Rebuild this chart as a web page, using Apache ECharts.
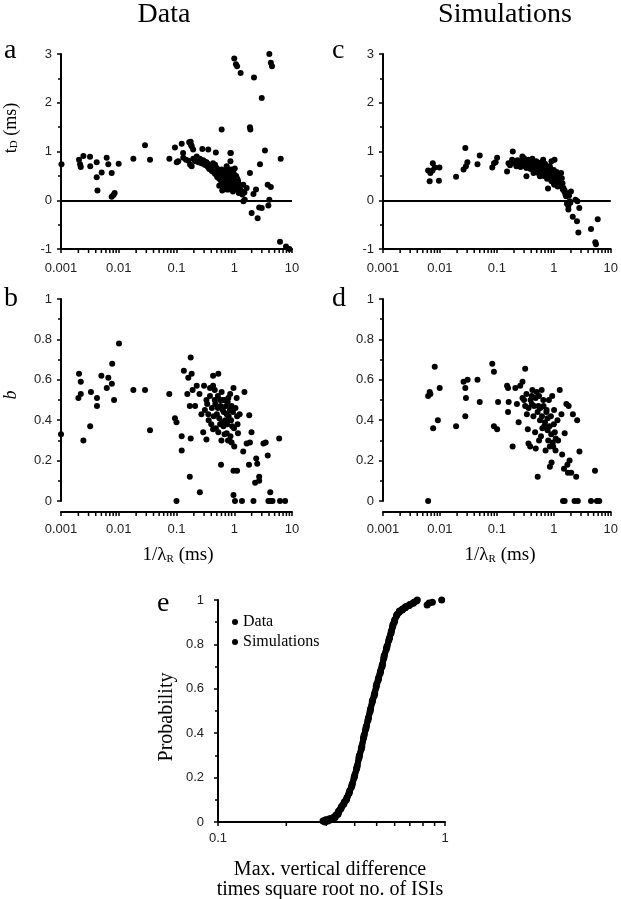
<!DOCTYPE html>
<html>
<head>
<meta charset="utf-8">
<script src="https://cdn.jsdelivr.net/npm/echarts@6/dist/echarts.min.js"></script>
<style>
html,body{margin:0;padding:0;background:#fff;}
#chart{position:absolute;left:0;top:0;width:621px;height:899px;}
#labels{position:absolute;left:0;top:0;width:621px;height:899px;pointer-events:none;}
</style>
</head>
<body>
<div id="chart"></div>
<div id="labels"></div>
<script>
// ---------- DATA ----------
var xRangeLog = [0.001, 10];
var xRangeE = [0.1, 1];
var yRangeTD = [-1, 3];
var yRangeB = [0, 1];
var bAxisLevel = -0.0545;   // level of the detached x axis under panels b and d
var xMinorTicksLog = [0.002,0.003,0.004,0.005,0.006,0.007,0.008,0.009,
                      0.02,0.03,0.04,0.05,0.06,0.07,0.08,0.09,
                      0.2,0.3,0.4,0.5,0.6,0.7,0.8,0.9,
                      2,3,4,5,6,7,8,9];
var xMinorTicksE = [0.2,0.3,0.4,0.5,0.6,0.7,0.8,0.9];

// panel a: data, 1/lambdaR (ms) vs tD (ms)
var panelA = [
 [0.00102,0.74],[0.00205,0.83],[0.00214,0.74],[0.0022,0.68],[0.00244,0.91],[0.00318,0.89],[0.00321,0.70],
 [0.00415,0.78],[0.00415,0.47],[0.00506,0.57],[0.00428,0.20],[0.00618,0.87],[0.0066,0.74],[0.00754,0.56],
 [0.00997,0.75],[0.00754,0.07],[0.0081,0.11],[0.0085,0.15],[0.0179,0.85],[0.0285,1.13],[0.0348,0.83],
 [0.0752,0.85],[0.094,1.08],[0.101,0.78],[0.107,0.80],[0.123,1.16],[0.13,0.97],[0.131,0.87],[0.146,0.83],
 [0.161,0.81],[0.166,1.19],[0.176,1.20],[0.18,1.13],[0.183,1.11],[0.172,0.73],[0.194,1.04],[0.183,0.70],
 [0.195,0.85],[0.224,0.90],[0.224,0.87],[0.254,0.85],[0.255,0.83],[0.28,1.05],[0.355,1.04],[0.33,0.78],
 [0.29,0.80],[0.333,0.77],[0.38,0.70],[0.43,0.76],[0.434,0.63],[0.465,0.73],[0.48,0.98],[0.497,0.66],
 [0.53,0.56],[0.566,0.49],[0.605,0.63],[0.646,0.42],[0.69,0.56],[0.74,0.70],[0.79,0.49],[0.84,0.39],
 [0.86,0.80],[0.88,0.63],[0.87,0.97],[0.86,0.97],[0.74,0.22],[0.88,0.29],[1.03,0.46],[1.1,0.22],[1.17,0.36],
 [1.34,0.18],[1.43,0.32],[0.605,1.45],
 [0.21,0.80],[0.23,0.84],[0.24,0.78],[0.26,0.81],[0.27,0.76],[0.29,0.82],[0.30,0.74],[0.31,0.79],[0.32,0.72],
 [0.34,0.75],[0.35,0.68],[0.36,0.73],[0.37,0.64],[0.39,0.71],[0.40,0.66],[0.41,0.60],[0.42,0.69],[0.44,0.58],
 [0.45,0.64],[0.46,0.55],[0.47,0.61],[0.49,0.52],[0.50,0.58],[0.51,0.47],[0.52,0.62],[0.54,0.54],[0.55,0.44],
 [0.56,0.59],[0.58,0.51],[0.59,0.40],[0.60,0.57],[0.62,0.47],[0.63,0.53],[0.64,0.36],[0.65,0.60],[0.66,0.45],
 [0.67,0.52],[0.68,0.39],[0.70,0.55],[0.71,0.48],[0.72,0.33],[0.73,0.62],[0.75,0.44],[0.76,0.52],[0.77,0.38],
 [0.78,0.57],[0.80,0.46],[0.81,0.30],[0.82,0.53],[0.83,0.41],[0.85,0.49],[0.86,0.35],[0.87,0.58],[0.89,0.44],
 [0.90,0.26],[0.92,0.52],[0.93,0.38],[0.95,0.47],[0.97,0.31],[0.98,0.55],[1.0,0.42],[1.02,0.65],[1.05,0.36],
 [1.08,0.50],[1.1,0.28],[1.13,0.44],[1.16,0.40],[1.2,0.33],[1.25,0.25],[1.3,0.20],[1.38,0.12],[1.2,0.15],
 [0.62,0.20],[0.8,0.22],[0.95,0.18],[0.68,0.27],[0.55,0.30],
 [1.0,2.91],[1.07,2.79],[1.12,2.75],[1.29,2.61],[2.2,2.52],[4.05,3.0],[4.3,2.82],[4.5,2.75],[2.99,2.10],
 [1.87,1.50],[1.9,1.45],[3.4,1.02],[6.37,0.85],[2.79,0.74],[3.79,0.32],[4.3,0.27],[1.87,0.56],[1.64,0.25],
 [2.38,0.22],[2.15,0.13],[1.5,0.16],[1.44,-0.02],[1.52,0.01],[2.0,-0.26],[2.54,-0.37],[2.7,-0.15],[2.99,-0.16],
 [3.9,-0.11],[4.05,0.01],[6.2,-0.85],[7.87,-0.95],[9.0,-1.0],[9.5,-1.03]
];

// panel b: data, 1/lambdaR (ms) vs b
var panelB = [
 [0.001,0.33],[0.00205,0.63],[0.0022,0.59],[0.0022,0.53],[0.002,0.51],[0.00244,0.30],[0.0033,0.54],[0.0032,0.37],
 [0.0042,0.51],[0.0042,0.47],[0.005,0.62],[0.0066,0.61],[0.0062,0.56],[0.0076,0.58],[0.0077,0.68],[0.0083,0.50],
 [0.0101,0.78],[0.0179,0.55],[0.0285,0.55],[0.0348,0.35],[0.075,0.53],[0.094,0.41],[0.10,0.39],[0.10,0.0],
 [0.123,0.25],[0.123,0.32],[0.134,0.645],[0.154,0.53],[0.16,0.61],[0.176,0.71],[0.176,0.31],[0.17,0.12],
 [0.183,0.63],[0.19,0.55],[0.17,0.47],[0.21,0.47],[0.224,0.57],[0.254,0.043],[0.25,0.53],[0.27,0.43],[0.29,0.34],
 [0.3,0.57],[0.33,0.50],[0.33,0.305],[0.355,0.43],[0.38,0.56],[0.4,0.38],[0.43,0.62],[0.43,0.57],[0.46,0.50],
 [0.5,0.43],[0.53,0.63],[0.43,0.355],[0.53,0.34],[0.57,0.50],[0.57,0.38],[0.59,0.18],[0.605,0.54],[0.63,0.45],
 [0.65,0.37],[0.69,0.50],[0.74,0.43],[0.74,0.335],[0.79,0.51],[0.81,0.40],[0.83,0.30],[0.85,0.53],[0.9,0.47],
 [0.92,0.37],[0.97,0.56],[0.97,0.15],[1.0,0.27],[0.97,0.03],[1.03,0.0],[1.1,0.51],[1.12,0.42],[1.16,0.335],
 [1.12,0.15],[1.24,0.43],[1.36,0.0],[1.43,0.245],[1.5,0.54],[1.64,0.285],[1.8,0.18],[1.82,0.425],[1.99,0.34],
 [1.87,0.29],[2.15,0.0],[2.3,0.09],[2.4,0.21],[2.5,0.185],[2.7,0.10],[2.7,0.12],[3.2,0.285],[3.5,0.29],[3.8,0.225],
 [3.9,0.0],[4.2,0.043],[4.3,0.0],[4.6,0.0],[6.0,0.31],[6.2,0.0],[7.6,0.0],
 [0.31,0.45],[0.34,0.48],[0.36,0.40],[0.38,0.52],[0.41,0.46],[0.44,0.42],[0.47,0.48],[0.48,0.36],[0.52,0.46],
 [0.55,0.41],[0.58,0.47],[0.61,0.39],[0.63,0.50],[0.66,0.44],[0.70,0.40],[0.72,0.47],[0.75,0.38],[0.77,0.49],
 [0.80,0.42],[0.84,0.45],[0.86,0.32],[0.88,0.40],[0.95,0.44],[0.99,0.36],[1.05,0.46],[1.14,0.38],[0.78,0.30],
 [0.9,0.29],[0.68,0.33],[0.6,0.30],[0.52,0.52],[0.46,0.55]
];

// panel c: simulations, 1/lambdaR (ms) vs tD (ms)
var panelC = [
 [0.0062,0.61],[0.0066,0.39],[0.0068,0.56],[0.0075,0.76],[0.0081,0.67],[0.0074,0.61],[0.0096,0.40],[0.0098,0.67],
 [0.0192,0.48],[0.026,0.63],[0.0279,1.07],[0.0286,0.70],[0.0303,0.78],[0.0456,0.74],[0.05,0.92],[0.083,0.67],
 [0.089,0.76],[0.101,0.87],[0.095,0.78],[0.151,0.59],[0.16,0.76],[0.185,0.83],[0.19,1.0],[0.21,0.76],[0.24,0.73],
 [0.28,0.90],[0.31,0.70],[0.33,0.49],[0.36,0.83],[0.38,0.70],[0.41,0.80],[0.44,0.56],[0.47,0.66],[0.50,0.76],
 [0.53,0.56],[0.57,0.49],[0.61,0.70],[0.65,0.83],[0.70,0.59],[0.74,0.49],[0.79,0.24],[0.85,0.70],[0.91,0.80],
 [0.93,0.39],[0.97,0.56],[1.0,0.35],[1.03,0.83],[1.1,0.49],[1.17,0.28],[1.26,0.39],[1.34,0.56],[1.44,0.22],
 [1.53,0.18],[1.64,0.08],[1.7,-0.07],[1.8,-0.19],[1.9,-0.02],[2.0,0.18],[2.4,0.01],[2.6,-0.02],[2.15,-0.34],
 [2.55,-0.43],[2.8,-0.16],[2.7,-0.66],[4.5,-0.59],[5.35,-0.86],[5.5,-0.90],[5.9,-0.39],
 [0.17,0.72],[0.2,0.78],[0.22,0.70],[0.23,0.82],[0.25,0.75],[0.26,0.68],[0.27,0.79],[0.29,0.73],[0.30,0.86],
 [0.32,0.76],[0.33,0.66],[0.34,0.81],[0.35,0.72],[0.37,0.77],[0.39,0.64],[0.40,0.74],[0.42,0.85],[0.43,0.69],
 [0.45,0.76],[0.46,0.60],[0.48,0.72],[0.49,0.80],[0.51,0.65],[0.52,0.71],[0.54,0.58],[0.55,0.77],[0.56,0.68],
 [0.58,0.62],[0.59,0.74],[0.60,0.53],[0.62,0.66],[0.63,0.79],[0.64,0.58],[0.66,0.71],[0.67,0.50],[0.68,0.64],
 [0.70,0.75],[0.71,0.55],[0.72,0.67],[0.75,0.61],[0.76,0.44],[0.78,0.69],[0.8,0.56],[0.82,0.62],[0.84,0.47],
 [0.86,0.66],[0.88,0.53],[0.9,0.40],[0.92,0.60],[0.95,0.50],[0.98,0.45],[1.0,0.62],[1.02,0.32],[1.05,0.54],
 [1.07,0.42],[1.1,0.36],[1.12,0.58],[1.15,0.46],[1.2,0.33],[1.22,0.50],[1.28,0.42],[1.32,0.30],[1.38,0.45],
 [1.42,0.35],[1.48,0.25],[1.55,0.20],[1.6,0.12],[1.75,0.14],[1.85,0.10],[1.8,-0.12],[1.95,-0.05]
];

// panel d: simulations, 1/lambdaR (ms) vs b
var panelD = [
 [0.0062,0.0],[0.0062,0.52],[0.0066,0.54],[0.0068,0.53],[0.0081,0.665],[0.0076,0.36],[0.0092,0.40],[0.0099,0.56],
 [0.0192,0.37],[0.026,0.59],[0.0279,0.56],[0.0286,0.51],[0.0279,0.42],[0.0306,0.60],[0.0456,0.60],[0.05,0.49],
 [0.083,0.68],[0.0887,0.64],[0.0887,0.37],[0.101,0.355],[0.105,0.49],[0.151,0.57],[0.157,0.56],[0.157,0.44],
 [0.161,0.49],[0.189,0.27],[0.211,0.56],[0.225,0.48],[0.241,0.39],[0.257,0.57],[0.282,0.59],[0.314,0.655],
 [0.282,0.51],[0.314,0.47],[0.336,0.43],[0.349,0.355],[0.359,0.285],[0.384,0.27],[0.41,0.52],[0.41,0.48],
 [0.438,0.42],[0.469,0.34],[0.481,0.26],[0.5,0.54],[0.521,0.12],[0.535,0.47],[0.571,0.40],[0.595,0.32],
 [0.611,0.55],[0.653,0.50],[0.679,0.37],[0.716,0.25],[0.746,0.45],[0.776,0.35],[0.798,0.30],[0.819,0.50],
 [0.853,0.17],[0.888,0.42],[0.912,0.19],[0.935,0.52],[0.973,0.27],[1.01,0.45],[1.04,0.34],[1.07,0.25],
 [1.16,0.40],[1.19,0.30],[1.27,0.55],[1.36,0.43],[1.40,0.23],[1.45,0.0],[1.55,0.0],[1.51,0.16],[1.55,0.335],
 [1.66,0.48],[1.73,0.18],[1.77,0.14],[1.82,0.47],[1.89,0.20],[2.02,0.14],[2.16,0.43],[2.31,0.0],[2.47,0.12],
 [2.64,0.0],[2.57,0.40],[2.82,0.245],[4.5,0.0],[5.28,0.15],[5.71,0.0],[6.28,0.0],
 [0.30,0.50],[0.33,0.53],[0.36,0.46],[0.39,0.50],[0.42,0.55],[0.45,0.47],[0.48,0.51],[0.52,0.44],[0.55,0.52],
 [0.58,0.46],[0.62,0.42],[0.66,0.47],[0.70,0.39],[0.74,0.44],[0.78,0.41],[0.84,0.37],[0.9,0.33],[0.96,0.29],
 [1.0,0.38],[1.08,0.31],[0.63,0.36],[0.55,0.30],[0.85,0.27]
];

// panel e: cumulative distributions (null = gap between separate dots)
var eData = [
 [0.290,0.005],[0.298,0.01],[0.31,0.015],[0.322,0.02],[0.33,0.03],[0.34,0.05],[0.35,0.07],[0.36,0.09],[0.37,0.11],
 [0.38,0.14],[0.39,0.17],[0.40,0.21],[0.41,0.25],[0.42,0.30],[0.43,0.34],[0.44,0.39],[0.45,0.43],[0.46,0.47],
 [0.47,0.51],[0.48,0.55],[0.49,0.58],[0.50,0.62],[0.51,0.65],[0.52,0.68],[0.53,0.71],[0.54,0.75],[0.555,0.79],
 [0.57,0.83],[0.58,0.86],[0.59,0.89],[0.60,0.91],[0.615,0.935],[0.63,0.95],[0.65,0.96],[0.67,0.97],[0.70,0.98],
 [0.73,0.99],[0.755,1.0]
];
var eSim = [
 [0.296,0.0],[0.305,0.005],[0.315,0.01],[0.328,0.02],[0.338,0.035],[0.348,0.06],[0.358,0.08],[0.368,0.10],
 [0.378,0.13],[0.388,0.16],[0.398,0.20],[0.408,0.24],[0.418,0.29],[0.428,0.33],[0.438,0.38],[0.448,0.42],
 [0.458,0.46],[0.468,0.50],[0.478,0.54],[0.488,0.57],[0.498,0.61],[0.508,0.64],[0.518,0.67],[0.528,0.70],
 [0.538,0.74],[0.552,0.78],[0.566,0.82],[0.578,0.85],[0.588,0.88],[0.598,0.90],[0.612,0.93],[0.628,0.945],
 [0.648,0.955],[0.668,0.965],[0.695,0.975],[0.725,0.985],[0.75,0.995],null,[0.834,0.977],null,[0.851,0.986],
 null,[0.88,0.99],null,[0.967,1.0]
];

// ---------- STYLE HELPERS ----------
var SANS = 'Liberation Sans, Arial, sans-serif';
var SERIF = 'Liberation Serif, Times New Roman, serif';
function logLabel(v){ return String(+Number(v).toPrecision(1)); }
function xLog(grid, range, offset, margin){
  return {
    type:'log', logBase:10, gridIndex:grid, min:range[0], max:range[1], offset:offset||0,
    axisLine:{show:true, onZero:false, lineStyle:{color:'#000', width:2}},
    axisTick:{show:true, length:4, lineStyle:{color:'#000', width:1.5}},
    minorTick:{show:false},
    axisLabel:{color:'#222', fontFamily:SANS, fontSize:13, margin:margin, formatter:logLabel},
    splitLine:{show:false}, minorSplitLine:{show:false}
  };
}
function yVal(grid, range, interval, margin){
  return {
    type:'value', gridIndex:grid, min:range[0], max:range[1], interval:interval,
    axisLine:{show:true, onZero:false, lineStyle:{color:'#000', width:2}},
    axisTick:{show:true, length:4, lineStyle:{color:'#000', width:1.5}},
    minorTick:{show:true, splitNumber:2, length:3, lineStyle:{color:'#000', width:1.5}},
    axisLabel:{color:'#222', fontFamily:SANS, fontSize:13, margin:margin},
    splitLine:{show:false}
  };
}
function scatter(name, xi, data, zero){
  var s = {name:name, type:'scatter', xAxisIndex:xi, yAxisIndex:xi, data:data,
    symbol:'circle', symbolSize:6, itemStyle:{color:'#000', opacity:1}, silent:true};
  if (zero) s.markLine = {silent:true, symbol:['none','none'], label:{show:false},
      lineStyle:{color:'#000', width:2, type:'solid', opacity:1}, data:[{yAxis:0}]};
  return s;
}
function minorTicks(xi, values, level){
  return {type:'scatter', name:'minor'+xi, xAxisIndex:xi, yAxisIndex:xi, clip:false, silent:true, z:3,
    data:values.map(function(v){ return [v, level]; }),
    symbol:'rect', symbolSize:[1.5, 4], symbolOffset:[0, 2], itemStyle:{color:'#000', opacity:1}};
}

var option = {
  animation:false,
  backgroundColor:'#fff',
  grid:[
    {left:61, top:54, width:231, height:195},
    {left:61, top:299, width:231, height:202},
    {left:383, top:54, width:230, height:195},
    {left:383, top:299, width:230, height:202},
    {left:218, top:600, width:227, height:222}
  ],
  xAxis:[xLog(0, xRangeLog, 0, 13), xLog(1, xRangeLog, 11, 11), xLog(2, xRangeLog, 0, 13), xLog(3, xRangeLog, 11, 11), xLog(4, xRangeE, 0, 10)],
  yAxis:[yVal(0, yRangeTD, 1, 9), yVal(1, yRangeB, 0.2, 9), yVal(2, yRangeTD, 1, 9), yVal(3, yRangeB, 0.2, 9), yVal(4, yRangeB, 0.2, 14)],
  legend:{data:['Data','Simulations'], orient:'vertical', left:227, top:609, itemGap:4, icon:'circle', itemWidth:6, itemHeight:6,
    textStyle:{fontFamily:SERIF, fontSize:16, color:'#000'}},
  series:[
    scatter('a', 0, panelA, true), scatter('b', 1, panelB, false), scatter('c', 2, panelC, true), scatter('d', 3, panelD, false),
    {name:'Data', type:'line', xAxisIndex:4, yAxisIndex:4, data:eData, symbol:'circle', symbolSize:7,
     itemStyle:{color:'#000', opacity:1}, lineStyle:{color:'#000', width:6}},
    {name:'Simulations', type:'line', xAxisIndex:4, yAxisIndex:4, data:eSim, symbol:'circle', symbolSize:7,
     itemStyle:{color:'#000', opacity:1}, lineStyle:{color:'#000', width:6}},
    minorTicks(0, xMinorTicksLog, yRangeTD[0]),
    minorTicks(1, xMinorTicksLog, bAxisLevel),
    minorTicks(2, xMinorTicksLog, yRangeTD[0]),
    minorTicks(3, xMinorTicksLog, bAxisLevel),
    minorTicks(4, xMinorTicksE, yRangeB[0])
  ]
};

// titles and axis names, drawn by a second ECharts instance laid over the plots
var textGraphics = [
  {type:'text', x:164, y:15, style:{text:'Data', font:'28px '+SERIF, fill:'#000', align:'center', verticalAlign:'middle'}},
  {type:'text', x:505, y:15, style:{text:'Simulations', font:'28px '+SERIF, fill:'#000', align:'center', verticalAlign:'middle'}},
  {type:'text', x:4, y:37, style:{text:'a', font:'28px '+SERIF, fill:'#000'}},
  {type:'text', x:4, y:285, style:{text:'b', font:'28px '+SERIF, fill:'#000'}},
  {type:'text', x:332, y:37, style:{text:'c', font:'28px '+SERIF, fill:'#000'}},
  {type:'text', x:332, y:285, style:{text:'d', font:'28px '+SERIF, fill:'#000'}},
  {type:'text', x:157, y:590, style:{text:'e', font:'28px '+SERIF, fill:'#000'}},
  {type:'text', x:11, y:128, rotation:Math.PI/2,
   style:{text:'{t|t}{s|D}{t| (ms)}', align:'center', verticalAlign:'middle', fill:'#000',
     rich:{t:{fontFamily:SERIF, fontSize:18, fill:'#000'}, s:{fontFamily:SERIF, fontSize:11, fill:'#000', verticalAlign:'bottom'}}}},
  {type:'text', x:11, y:395, rotation:Math.PI/2,
   style:{text:'b', fontFamily:SERIF, fontStyle:'italic', fontSize:18, fill:'#000', align:'center', verticalAlign:'middle'}},
  {type:'text', x:167, y:717, rotation:Math.PI/2,
   style:{text:'Probability', fontFamily:SERIF, fontSize:20, fill:'#000', align:'center', verticalAlign:'middle'}},
  {type:'text', x:178, y:555,
   style:{text:'{t|1/λ}{s|R}{t| (ms)}', align:'center', verticalAlign:'middle', fill:'#000',
     rich:{t:{fontFamily:SERIF, fontSize:19, fill:'#000'}, s:{fontFamily:SERIF, fontSize:11, fill:'#000', verticalAlign:'bottom'}}}},
  {type:'text', x:500, y:555,
   style:{text:'{t|1/λ}{s|R}{t| (ms)}', align:'center', verticalAlign:'middle', fill:'#000',
     rich:{t:{fontFamily:SERIF, fontSize:19, fill:'#000'}, s:{fontFamily:SERIF, fontSize:11, fill:'#000', verticalAlign:'bottom'}}}},
  {type:'text', x:330, y:870,
   style:{text:'Max. vertical difference', fontFamily:SERIF, fontSize:20, fill:'#000', align:'center', verticalAlign:'middle'}},
  {type:'text', x:330, y:890,
   style:{text:'times square root no. of ISIs', fontFamily:SERIF, fontSize:20, fill:'#000', align:'center', verticalAlign:'middle'}}
];

var chart = echarts.init(document.getElementById('chart'), null, {renderer:'canvas'});
chart.setOption(option);
var labelChart = echarts.init(document.getElementById('labels'), null, {renderer:'canvas'});
labelChart.setOption({animation:false, backgroundColor:'rgba(0,0,0,0)', graphic:textGraphics});
setTimeout(function(){
  chart.getZr().refreshImmediately();
  labelChart.getZr().refreshImmediately();
}, 200);
</script>
</body>
</html>
